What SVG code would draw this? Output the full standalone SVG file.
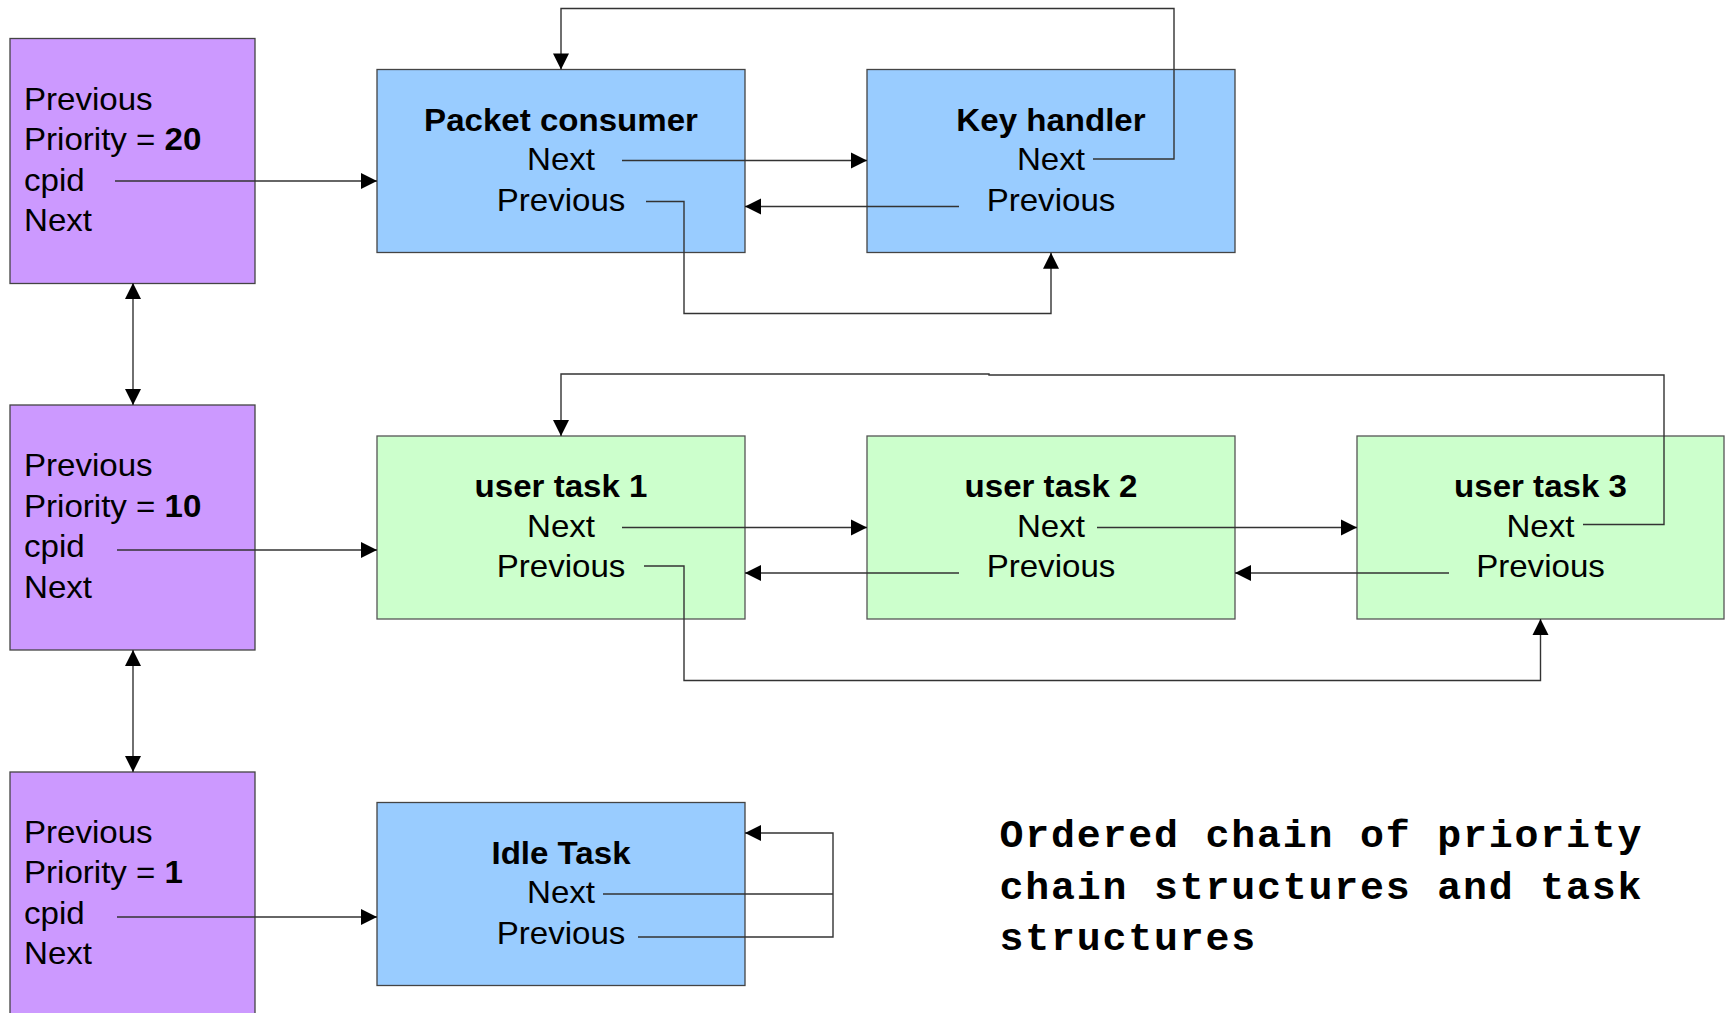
<svg xmlns="http://www.w3.org/2000/svg" width="1727" height="1013" viewBox="0 0 1727 1013">
  <style>
    .prio { fill: #cc99ff; stroke: #444; stroke-width: 1.3; }
    .blue { fill: #99ccff; stroke: #444; stroke-width: 1.3; }
    .green { fill: #ccffcc; stroke: #555; stroke-width: 1.3; }
    text { font-family: "Liberation Sans", Arial, sans-serif; font-size: 31.5px; fill: #000; }
    .b { font-weight: bold; }
    .c { text-anchor: middle; }
    .cap { font-family: "Liberation Mono", "Courier New", monospace; font-weight: bold; font-size: 38px; letter-spacing: 1.72px; }
    .link { fill: none; stroke: #333; stroke-width: 1.4; }
    .arr { marker-end: url(#head); }
    .arr2 { marker-start: url(#head); marker-end: url(#head); }
  </style>
  <defs>
    <marker id="head" markerUnits="userSpaceOnUse" markerWidth="16" markerHeight="16" refX="16" refY="8" orient="auto-start-reverse" overflow="visible">
      <path d="M0,0 L16,8 L0,16 Z" fill="#000"/>
    </marker>
  </defs>

  <rect width="1727" height="1013" fill="#fff"/>

  <!-- priority chain structures -->
  <g id="prio20">
    <rect class="prio" x="10" y="38.5" width="245" height="245"/>
    <text transform="scale(1.05 1)" x="22.86" y="110">Previous</text>
    <text transform="scale(1.05 1)" x="22.86" y="150.5">Priority = <tspan class="b">20</tspan></text>
    <text transform="scale(1.05 1)" x="22.86" y="191">cpid</text>
    <text transform="scale(1.05 1)" x="22.86" y="231.5">Next</text>
  </g>
  <g id="prio10">
    <rect class="prio" x="10" y="405" width="245" height="245"/>
    <text transform="scale(1.05 1)" x="22.86" y="476.5">Previous</text>
    <text transform="scale(1.05 1)" x="22.86" y="517">Priority = <tspan class="b">10</tspan></text>
    <text transform="scale(1.05 1)" x="22.86" y="557.5">cpid</text>
    <text transform="scale(1.05 1)" x="22.86" y="598">Next</text>
  </g>
  <g id="prio1">
    <rect class="prio" x="10" y="772" width="245" height="260"/>
    <text transform="scale(1.05 1)" x="22.86" y="843">Previous</text>
    <text transform="scale(1.05 1)" x="22.86" y="883.5">Priority = <tspan class="b">1</tspan></text>
    <text transform="scale(1.05 1)" x="22.86" y="924">cpid</text>
    <text transform="scale(1.05 1)" x="22.86" y="964.5">Next</text>
  </g>

  <!-- task structures -->
  <g id="packet-consumer">
    <rect class="blue" x="377" y="69.5" width="368" height="183"/>
    <text class="c b" transform="scale(1.05 1)" x="534.29" y="131">Packet consumer</text>
    <text class="c" transform="scale(1.05 1)" x="534.29" y="170.5">Next</text>
    <text class="c" transform="scale(1.05 1)" x="534.29" y="211">Previous</text>
  </g>
  <g id="key-handler">
    <rect class="blue" x="867" y="69.5" width="368" height="183"/>
    <text class="c b" transform="scale(1.05 1)" x="1000.95" y="131">Key handler</text>
    <text class="c" transform="scale(1.05 1)" x="1000.95" y="170.5">Next</text>
    <text class="c" transform="scale(1.05 1)" x="1000.95" y="211">Previous</text>
  </g>
  <g id="user-task-1">
    <rect class="green" x="377" y="436" width="368" height="183"/>
    <text class="c b" transform="scale(1.05 1)" x="534.29" y="497.5">user task 1</text>
    <text class="c" transform="scale(1.05 1)" x="534.29" y="537">Next</text>
    <text class="c" transform="scale(1.05 1)" x="534.29" y="577.5">Previous</text>
  </g>
  <g id="user-task-2">
    <rect class="green" x="867" y="436" width="368" height="183"/>
    <text class="c b" transform="scale(1.05 1)" x="1000.95" y="497.5">user task 2</text>
    <text class="c" transform="scale(1.05 1)" x="1000.95" y="537">Next</text>
    <text class="c" transform="scale(1.05 1)" x="1000.95" y="577.5">Previous</text>
  </g>
  <g id="user-task-3">
    <rect class="green" x="1357" y="436" width="367" height="183"/>
    <text class="c b" transform="scale(1.05 1)" x="1467.14" y="497.5">user task 3</text>
    <text class="c" transform="scale(1.05 1)" x="1467.14" y="537">Next</text>
    <text class="c" transform="scale(1.05 1)" x="1467.14" y="577.5">Previous</text>
  </g>
  <g id="idle-task">
    <rect class="blue" x="377" y="802.5" width="368" height="183"/>
    <text class="c b" transform="scale(1.05 1)" x="534.29" y="864">Idle Task</text>
    <text class="c" transform="scale(1.05 1)" x="534.29" y="903.5">Next</text>
    <text class="c" transform="scale(1.05 1)" x="534.29" y="944">Previous</text>
  </g>

  <!-- links between structures -->
  <g id="connectors">
    <!-- priority 20 -->
    <path class="link arr" d="M115,181 H377"/>
    <path class="link arr" d="M622,160.5 H867"/>
    <path class="link arr" d="M959,206.5 H745"/>
    <path class="link arr" d="M1093,159 H1174 V8.5 H561 V69.5"/>
    <path class="link arr" d="M646,201.5 H684 V313.5 H1051 V252.7"/>
    <!-- priority chain -->
    <path class="link arr2" d="M133,283 V405"/>
    <path class="link arr2" d="M133,650 V772"/>
    <!-- priority 10 -->
    <path class="link arr" d="M117,550 H377"/>
    <path class="link arr" d="M622,527.5 H867"/>
    <path class="link arr" d="M1097,527.5 H1357"/>
    <path class="link arr" d="M1583,524.5 H1664 V375 H989 V374 H561 V436"/>
    <path class="link arr" d="M959,573 H745"/>
    <path class="link arr" d="M1449,573 H1235"/>
    <path class="link arr" d="M644,566 H684 V680.5 H1540.5 V619"/>
    <!-- priority 1 -->
    <path class="link arr" d="M117,917 H377"/>
    <path class="link" d="M603,894 H833"/>
    <path class="link arr" d="M638,937 H833 V833 H745"/>
  </g>

  <g id="caption">
    <text class="cap" transform="scale(1.05 1)" x="952" y="847">Ordered chain of priority</text>
    <text class="cap" transform="scale(1.05 1)" x="952" y="899.5">chain structures and task</text>
    <text class="cap" transform="scale(1.05 1)" x="952" y="950">structures</text>
  </g>
</svg>
